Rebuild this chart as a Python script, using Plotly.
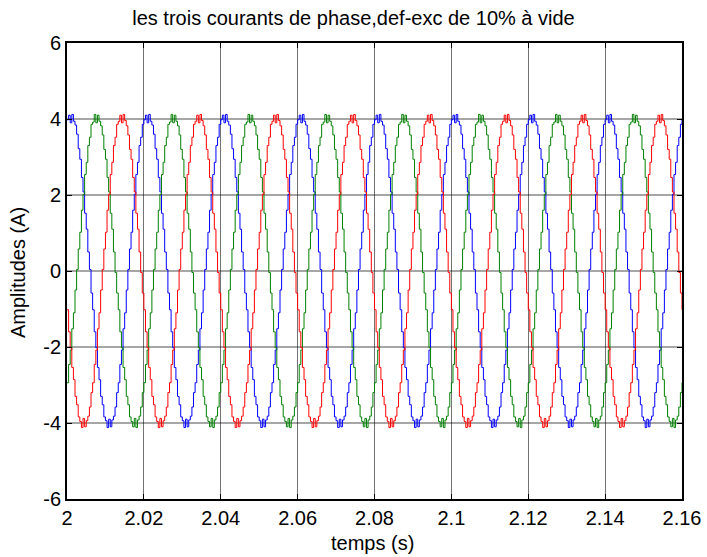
import numpy as np
import plotly.graph_objects as go

# One electrical period (20 ms) of each phase current, 48 samples per period,
# starting at t = 2.0 s. The signal is periodic in steady state.
samples_per_period = 48
period = 0.02
n_periods = 8

ia_cycle = [3.98, 4.10, 3.90, 4.12, 3.94, 3.84, 3.60, 3.22, 2.94, 2.46, 2.08, 1.52,
            1.10, 0.50, 0.04, -0.58, -1.02, -1.60, -2.02, -2.54, -2.86, -3.30, -3.52, -3.84,
            -3.94, -4.12, -3.90, -4.10, -3.92, -3.82, -3.58, -3.20, -2.94, -2.46, -2.08, -1.52,
            -1.10, -0.50, 0.04, 0.58, 1.02, 1.60, 2.02, 2.54, 2.86, 3.30, 3.52, 3.86]

ib_cycle = [-2.94, -2.46, -2.08, -1.52, -1.10, -0.50, 0.04, 0.58, 1.02, 1.60, 2.02, 2.54,
            2.86, 3.30, 3.52, 3.86, 3.92, 4.12, 3.90, 4.10, 3.94, 3.82, 3.58, 3.20,
            2.94, 2.46, 2.08, 1.52, 1.10, 0.50, -0.04, -0.58, -1.02, -1.60, -2.02, -2.54,
            -2.86, -3.30, -3.52, -3.84, -3.96, -4.10, -3.88, -4.12, -3.92, -3.82, -3.58, -3.20]

ic_cycle = [-1.02, -1.60, -2.02, -2.54, -2.86, -3.30, -3.52, -3.84, -3.96, -4.12, -3.88, -4.10,
            -3.94, -3.82, -3.58, -3.20, -2.94, -2.46, -2.08, -1.52, -1.10, -0.50, 0.04, 0.58,
            1.02, 1.60, 2.02, 2.54, 2.86, 3.30, 3.52, 3.86, 3.94, 4.10, 3.90, 4.12,
            3.96, 3.82, 3.58, 3.20, 2.94, 2.46, 2.08, 1.52, 1.10, 0.50, -0.04, -0.58]

x_ticks = [2.00, 2.02, 2.04, 2.06, 2.08, 2.10, 2.12, 2.14, 2.16]
x_tick_labels = ["2", "2.02", "2.04", "2.06", "2.08", "2.1", "2.12", "2.14", "2.16"]
y_ticks = [-6, -4, -2, 0, 2, 4, 6]
y_tick_labels = ["-6", "-4", "-2", "0", "2", "4", "6"]

t_start = 2.0
dt = period / samples_per_period
n = samples_per_period * n_periods
t = t_start + np.arange(n + 1) * dt


def periodic(cycle):
    arr = np.tile(np.asarray(cycle, dtype=float), n_periods)
    return np.append(arr, cycle[0])


ia = periodic(ia_cycle)
ib = periodic(ib_cycle)
ic = periodic(ic_cycle)

font_family = "Liberation Sans, Arial, sans-serif"
W, H = 707, 557

fig = go.Figure()
for y, color in [(ia, "#0000FF"), (ib, "#008000"), (ic, "#FF0000")]:
    fig.add_trace(go.Scatter(x=t, y=y, mode="lines",
                             line=dict(color=color, width=1, shape="hv"),
                             showlegend=False, hoverinfo="skip"))

axis_common = dict(
    showline=True, linecolor="black", linewidth=1.8, mirror="ticks",
    ticks="inside", ticklen=5, tickcolor="black", tickwidth=1,
    showgrid=True, zeroline=False, automargin=False,
    tickfont=dict(family=font_family, size=20, color="black"),
)

fig.update_layout(
    width=W, height=H,
    paper_bgcolor="white", plot_bgcolor="white",
    margin=dict(l=67, r=25, t=43, b=58),
    title=dict(text="les trois courants de phase,def-exc de 10% à vide",
               x=0.5, xanchor="center", xref="container",
               y=1 - 18 / H, yanchor="middle", yref="container",
               font=dict(family=font_family, size=20, color="black")),
    xaxis=dict(range=[2.0, 2.16], tickvals=x_ticks, ticktext=x_tick_labels,
               gridcolor="rgba(0,0,0,0.55)", gridwidth=1, **axis_common),
    yaxis=dict(range=[-6, 6], tickvals=y_ticks, ticktext=y_tick_labels,
               gridcolor="rgba(0,0,0,0.35)", gridwidth=1.5, **axis_common),
    annotations=[
        dict(text="temps (s)", xref="paper", yref="paper",
             x=(372 - 67) / (W - 67 - 25), y=-(543 - (H - 58)) / (H - 43 - 58),
             xanchor="center", yanchor="middle", showarrow=False,
             font=dict(family=font_family, size=20, color="black")),
        dict(text="Amplitudes (A)", xref="paper", yref="paper",
             x=-(67 - 18) / (W - 67 - 25), y=(H - 58 - 272) / (H - 43 - 58),
             xanchor="center", yanchor="middle", showarrow=False, textangle=-90,
             font=dict(family=font_family, size=20, color="black")),
    ],
)

fig.write_html("out.html")
